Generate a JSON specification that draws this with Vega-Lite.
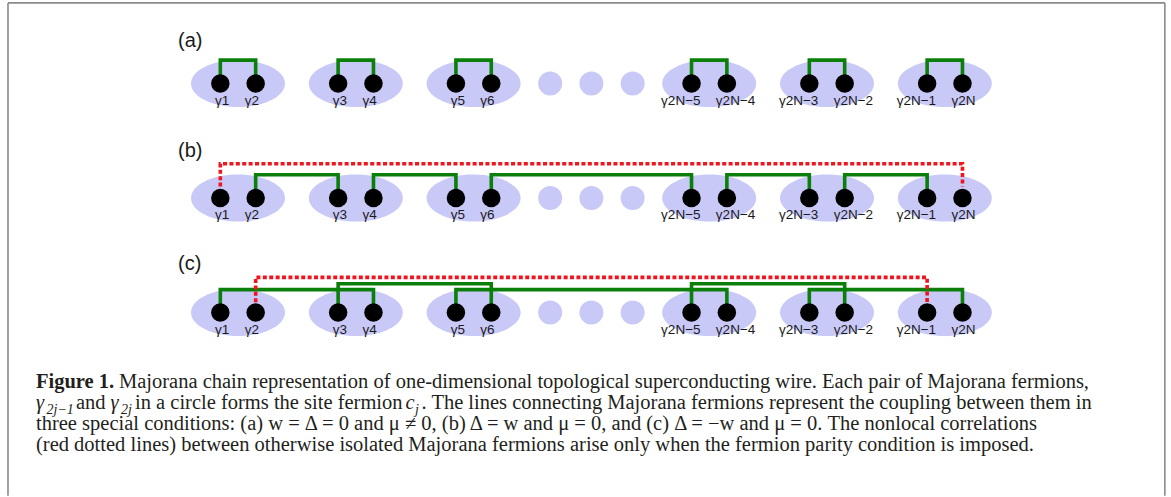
{
  "$schema": "https://vega.github.io/schema/vega-lite/v6.json",
  "width": 1171,
  "height": 497,
  "autosize": {"type": "fit", "contains": "padding"},
  "padding": 0,
  "background": "white",
  "config": {"view": {"stroke": null}},
  "datasets": {
    "frame": [
      {"x": -1.9525, "y": -0.7046, "x2": -1.9525, "y2": 3.6},
      {"x": -1.9525, "y": -0.7046, "x2": 7.868, "y2": -0.7046},
      {"x": 7.868, "y": -0.7046, "x2": 7.868, "y2": 3.6}
    ],
    "sites": [
      {"x": 0, "y": 0}, {"x": 1, "y": 0}, {"x": 2, "y": 0}, {"x": 4, "y": 0}, {"x": 5, "y": 0}, {"x": 6, "y": 0},
      {"x": 0, "y": 1}, {"x": 1, "y": 1}, {"x": 2, "y": 1}, {"x": 4, "y": 1}, {"x": 5, "y": 1}, {"x": 6, "y": 1},
      {"x": 0, "y": 2}, {"x": 1, "y": 2}, {"x": 2, "y": 2}, {"x": 4, "y": 2}, {"x": 5, "y": 2}, {"x": 6, "y": 2}
    ],
    "gap": [
      {"x": 2.65, "y": 0}, {"x": 3, "y": 0}, {"x": 3.35, "y": 0},
      {"x": 2.65, "y": 1}, {"x": 3, "y": 1}, {"x": 3.35, "y": 1},
      {"x": 2.65, "y": 2}, {"x": 3, "y": 2}, {"x": 3.35, "y": 2}
    ],
    "majorana": [
      {"x": -0.15, "y": 0, "label": "γ1", "side": "left"}, {"x": 0.15, "y": 0, "label": "γ2", "side": "right"},
      {"x": 0.85, "y": 0, "label": "γ3", "side": "left"}, {"x": 1.15, "y": 0, "label": "γ4", "side": "right"},
      {"x": 1.85, "y": 0, "label": "γ5", "side": "left"}, {"x": 2.15, "y": 0, "label": "γ6", "side": "right"},
      {"x": 3.85, "y": 0, "label": "γ2N−5", "side": "left"}, {"x": 4.15, "y": 0, "label": "γ2N−4", "side": "right"},
      {"x": 4.85, "y": 0, "label": "γ2N−3", "side": "left"}, {"x": 5.15, "y": 0, "label": "γ2N−2", "side": "right"},
      {"x": 5.85, "y": 0, "label": "γ2N−1", "side": "left"}, {"x": 6.15, "y": 0, "label": "γ2N", "side": "right"},
      {"x": -0.15, "y": 1, "label": "γ1", "side": "left"}, {"x": 0.15, "y": 1, "label": "γ2", "side": "right"},
      {"x": 0.85, "y": 1, "label": "γ3", "side": "left"}, {"x": 1.15, "y": 1, "label": "γ4", "side": "right"},
      {"x": 1.85, "y": 1, "label": "γ5", "side": "left"}, {"x": 2.15, "y": 1, "label": "γ6", "side": "right"},
      {"x": 3.85, "y": 1, "label": "γ2N−5", "side": "left"}, {"x": 4.15, "y": 1, "label": "γ2N−4", "side": "right"},
      {"x": 4.85, "y": 1, "label": "γ2N−3", "side": "left"}, {"x": 5.15, "y": 1, "label": "γ2N−2", "side": "right"},
      {"x": 5.85, "y": 1, "label": "γ2N−1", "side": "left"}, {"x": 6.15, "y": 1, "label": "γ2N", "side": "right"},
      {"x": -0.15, "y": 2, "label": "γ1", "side": "left"}, {"x": 0.15, "y": 2, "label": "γ2", "side": "right"},
      {"x": 0.85, "y": 2, "label": "γ3", "side": "left"}, {"x": 1.15, "y": 2, "label": "γ4", "side": "right"},
      {"x": 1.85, "y": 2, "label": "γ5", "side": "left"}, {"x": 2.15, "y": 2, "label": "γ6", "side": "right"},
      {"x": 3.85, "y": 2, "label": "γ2N−5", "side": "left"}, {"x": 4.15, "y": 2, "label": "γ2N−4", "side": "right"},
      {"x": 4.85, "y": 2, "label": "γ2N−3", "side": "left"}, {"x": 5.15, "y": 2, "label": "γ2N−2", "side": "right"},
      {"x": 5.85, "y": 2, "label": "γ2N−1", "side": "left"}, {"x": 6.15, "y": 2, "label": "γ2N", "side": "right"}
    ],
    "links": [
      {"id": "a1", "kind": "coupling", "k": 1, "x": -0.15, "y": 0}, {"id": "a1", "kind": "coupling", "k": 2, "x": -0.15, "y": -0.205}, {"id": "a1", "kind": "coupling", "k": 3, "x": 0.15, "y": -0.205}, {"id": "a1", "kind": "coupling", "k": 4, "x": 0.15, "y": 0},
      {"id": "a2", "kind": "coupling", "k": 1, "x": 0.85, "y": 0}, {"id": "a2", "kind": "coupling", "k": 2, "x": 0.85, "y": -0.205}, {"id": "a2", "kind": "coupling", "k": 3, "x": 1.15, "y": -0.205}, {"id": "a2", "kind": "coupling", "k": 4, "x": 1.15, "y": 0},
      {"id": "a3", "kind": "coupling", "k": 1, "x": 1.85, "y": 0}, {"id": "a3", "kind": "coupling", "k": 2, "x": 1.85, "y": -0.205}, {"id": "a3", "kind": "coupling", "k": 3, "x": 2.15, "y": -0.205}, {"id": "a3", "kind": "coupling", "k": 4, "x": 2.15, "y": 0},
      {"id": "a4", "kind": "coupling", "k": 1, "x": 3.85, "y": 0}, {"id": "a4", "kind": "coupling", "k": 2, "x": 3.85, "y": -0.205}, {"id": "a4", "kind": "coupling", "k": 3, "x": 4.15, "y": -0.205}, {"id": "a4", "kind": "coupling", "k": 4, "x": 4.15, "y": 0},
      {"id": "a5", "kind": "coupling", "k": 1, "x": 4.85, "y": 0}, {"id": "a5", "kind": "coupling", "k": 2, "x": 4.85, "y": -0.205}, {"id": "a5", "kind": "coupling", "k": 3, "x": 5.15, "y": -0.205}, {"id": "a5", "kind": "coupling", "k": 4, "x": 5.15, "y": 0},
      {"id": "a6", "kind": "coupling", "k": 1, "x": 5.85, "y": 0}, {"id": "a6", "kind": "coupling", "k": 2, "x": 5.85, "y": -0.205}, {"id": "a6", "kind": "coupling", "k": 3, "x": 6.15, "y": -0.205}, {"id": "a6", "kind": "coupling", "k": 4, "x": 6.15, "y": 0},
      {"id": "b1", "kind": "coupling", "k": 1, "x": 0.15, "y": 1}, {"id": "b1", "kind": "coupling", "k": 2, "x": 0.15, "y": 0.797}, {"id": "b1", "kind": "coupling", "k": 3, "x": 0.85, "y": 0.797}, {"id": "b1", "kind": "coupling", "k": 4, "x": 0.85, "y": 1},
      {"id": "b2", "kind": "coupling", "k": 1, "x": 1.15, "y": 1}, {"id": "b2", "kind": "coupling", "k": 2, "x": 1.15, "y": 0.797}, {"id": "b2", "kind": "coupling", "k": 3, "x": 1.85, "y": 0.797}, {"id": "b2", "kind": "coupling", "k": 4, "x": 1.85, "y": 1},
      {"id": "b3", "kind": "coupling", "k": 1, "x": 2.15, "y": 1}, {"id": "b3", "kind": "coupling", "k": 2, "x": 2.15, "y": 0.797}, {"id": "b3", "kind": "coupling", "k": 3, "x": 3.85, "y": 0.797}, {"id": "b3", "kind": "coupling", "k": 4, "x": 3.85, "y": 1},
      {"id": "b4", "kind": "coupling", "k": 1, "x": 4.15, "y": 1}, {"id": "b4", "kind": "coupling", "k": 2, "x": 4.15, "y": 0.797}, {"id": "b4", "kind": "coupling", "k": 3, "x": 4.85, "y": 0.797}, {"id": "b4", "kind": "coupling", "k": 4, "x": 4.85, "y": 1},
      {"id": "b5", "kind": "coupling", "k": 1, "x": 5.15, "y": 1}, {"id": "b5", "kind": "coupling", "k": 2, "x": 5.15, "y": 0.797}, {"id": "b5", "kind": "coupling", "k": 3, "x": 5.85, "y": 0.797}, {"id": "b5", "kind": "coupling", "k": 4, "x": 5.85, "y": 1},
      {"id": "b0", "kind": "nonlocal", "k": 1, "x": -0.15, "y": 0.9}, {"id": "b0", "kind": "nonlocal", "k": 2, "x": -0.15, "y": 0.7}, {"id": "b0", "kind": "nonlocal", "k": 3, "x": 6.15, "y": 0.7}, {"id": "b0", "kind": "nonlocal", "k": 4, "x": 6.15, "y": 0.9},
      {"id": "c1", "kind": "coupling", "k": 1, "x": -0.15, "y": 2}, {"id": "c1", "kind": "coupling", "k": 2, "x": -0.15, "y": 1.8}, {"id": "c1", "kind": "coupling", "k": 3, "x": 1.15, "y": 1.8}, {"id": "c1", "kind": "coupling", "k": 4, "x": 1.15, "y": 2},
      {"id": "c2", "kind": "coupling", "k": 1, "x": 0.85, "y": 2}, {"id": "c2", "kind": "coupling", "k": 2, "x": 0.85, "y": 1.748}, {"id": "c2", "kind": "coupling", "k": 3, "x": 2.15, "y": 1.748}, {"id": "c2", "kind": "coupling", "k": 4, "x": 2.15, "y": 2},
      {"id": "c3", "kind": "coupling", "k": 1, "x": 1.85, "y": 2}, {"id": "c3", "kind": "coupling", "k": 2, "x": 1.85, "y": 1.8}, {"id": "c3", "kind": "coupling", "k": 3, "x": 4.15, "y": 1.8}, {"id": "c3", "kind": "coupling", "k": 4, "x": 4.15, "y": 2},
      {"id": "c4", "kind": "coupling", "k": 1, "x": 3.85, "y": 2}, {"id": "c4", "kind": "coupling", "k": 2, "x": 3.85, "y": 1.748}, {"id": "c4", "kind": "coupling", "k": 3, "x": 5.15, "y": 1.748}, {"id": "c4", "kind": "coupling", "k": 4, "x": 5.15, "y": 2},
      {"id": "c5", "kind": "coupling", "k": 1, "x": 4.85, "y": 2}, {"id": "c5", "kind": "coupling", "k": 2, "x": 4.85, "y": 1.8}, {"id": "c5", "kind": "coupling", "k": 3, "x": 6.15, "y": 1.8}, {"id": "c5", "kind": "coupling", "k": 4, "x": 6.15, "y": 2},
      {"id": "c0", "kind": "nonlocal", "k": 1, "x": 0.15, "y": 1.91}, {"id": "c0", "kind": "nonlocal", "k": 2, "x": 0.15, "y": 1.693}, {"id": "c0", "kind": "nonlocal", "k": 3, "x": 5.85, "y": 1.693}, {"id": "c0", "kind": "nonlocal", "k": 4, "x": 5.85, "y": 1.91}
    ],
    "panels": [
      {"x": -0.509, "y": -0.3735, "text": "(a)"},
      {"x": -0.509, "y": 0.586, "text": "(b)"},
      {"x": -0.509, "y": 1.579, "text": "(c)"}
    ],
    "caption": [
      {"x": -1.7148, "y": 2.6613, "style": "bold", "text": "Figure 1."},
      {"x": -1.0102, "y": 2.6613, "style": "normal", "text": "Majorana chain representation of one-dimensional topological superconducting wire. Each pair of Majorana fermions,"},
      {"x": -1.7148, "y": 2.8438, "style": "italic", "text": "γ"},
      {"x": -1.6257, "y": 2.8438, "style": "sub", "text": "2j−1"},
      {"x": -1.3752, "y": 2.8438, "style": "normal", "text": "and"},
      {"x": -1.0823, "y": 2.8438, "style": "italic", "text": "γ"},
      {"x": -0.9932, "y": 2.8438, "style": "sub", "text": "2j"},
      {"x": -0.8744, "y": 2.8438, "style": "normal", "text": "in a circle forms the site fermion"},
      {"x": 1.4219, "y": 2.8438, "style": "italic", "text": "c"},
      {"x": 1.5025, "y": 2.8438, "style": "sub", "text": "j"},
      {"x": 1.5577, "y": 2.8438, "style": "normal", "text": ". The lines connecting Majorana fermions represent the coupling between them in"},
      {"x": -1.7148, "y": 3.0263, "style": "normal", "text": "three special conditions: (a) w = Δ = 0 and μ ≠ 0, (b) Δ = w and μ = 0, and (c) Δ = −w and μ = 0. The nonlocal correlations"},
      {"x": -1.7148, "y": 3.2088, "style": "normal", "text": "(red dotted lines) between otherwise isolated Majorana fermions arise only when the fermion parity condition is imposed."}
    ]
  },
  "layer": [
    {
      "data": {"name": "frame"},
      "mark": {"type": "rule", "color": "#8a8a8a", "strokeWidth": 1.6},
      "encoding": {
        "x": {"field": "x", "type": "quantitative", "scale": {"domain": [-2.02037, 7.9202], "nice": false, "zero": false}, "axis": null},
        "y": {"field": "y", "type": "quantitative", "scale": {"domain": [-0.73005, 3.48896], "nice": false, "zero": false, "reverse": true}, "axis": null},
        "x2": {"field": "x2"},
        "y2": {"field": "y2"}
      }
    },
    {
      "data": {"name": "sites"},
      "mark": {"type": "point", "shape": "M-1,0A1,0.5,0,1,1,1,0A1,0.5,0,1,1,-1,0Z", "size": 8836, "filled": true, "color": "#c9c9f8", "opacity": 1, "strokeWidth": 0},
      "encoding": {
        "x": {"field": "x", "type": "quantitative", "scale": {"domain": [-2.02037, 7.9202], "nice": false, "zero": false}, "axis": null},
        "y": {"field": "y", "type": "quantitative", "scale": {"domain": [-0.73005, 3.48896], "nice": false, "zero": false, "reverse": true}, "axis": null}
      }
    },
    {
      "data": {"name": "gap"},
      "mark": {"type": "point", "shape": "circle", "size": 576, "filled": true, "color": "#c9c9f8", "opacity": 1, "strokeWidth": 0},
      "encoding": {
        "x": {"field": "x", "type": "quantitative", "scale": {"domain": [-2.02037, 7.9202], "nice": false, "zero": false}, "axis": null},
        "y": {"field": "y", "type": "quantitative", "scale": {"domain": [-0.73005, 3.48896], "nice": false, "zero": false, "reverse": true}, "axis": null}
      }
    },
    {
      "data": {"name": "links"},
      "transform": [{"filter": "datum.kind === 'coupling'"}],
      "mark": {"type": "line", "color": "#0a7f0a", "strokeWidth": 3.6, "strokeCap": "butt", "strokeJoin": "miter"},
      "encoding": {
        "x": {"field": "x", "type": "quantitative", "scale": {"domain": [-2.02037, 7.9202], "nice": false, "zero": false}, "axis": null},
        "y": {"field": "y", "type": "quantitative", "scale": {"domain": [-0.73005, 3.48896], "nice": false, "zero": false, "reverse": true}, "axis": null},
        "detail": {"field": "id", "type": "nominal"},
        "order": {"field": "k", "type": "quantitative"}
      }
    },
    {
      "data": {"name": "links"},
      "transform": [{"filter": "datum.kind === 'nonlocal'"}],
      "mark": {"type": "line", "color": "#f0141c", "strokeWidth": 3.6, "strokeDash": [4, 2.4], "strokeCap": "butt", "strokeJoin": "miter"},
      "encoding": {
        "x": {"field": "x", "type": "quantitative", "scale": {"domain": [-2.02037, 7.9202], "nice": false, "zero": false}, "axis": null},
        "y": {"field": "y", "type": "quantitative", "scale": {"domain": [-0.73005, 3.48896], "nice": false, "zero": false, "reverse": true}, "axis": null},
        "detail": {"field": "id", "type": "nominal"},
        "order": {"field": "k", "type": "quantitative"}
      }
    },
    {
      "data": {"name": "majorana"},
      "mark": {"type": "point", "shape": "circle", "size": 342, "filled": true, "color": "#000000", "opacity": 1, "strokeWidth": 0},
      "encoding": {
        "x": {"field": "x", "type": "quantitative", "scale": {"domain": [-2.02037, 7.9202], "nice": false, "zero": false}, "axis": null},
        "y": {"field": "y", "type": "quantitative", "scale": {"domain": [-0.73005, 3.48896], "nice": false, "zero": false, "reverse": true}, "axis": null}
      }
    },
    {
      "data": {"name": "majorana"},
      "transform": [{"filter": "datum.side === 'left'"}],
      "mark": {"type": "text", "align": "right", "baseline": "alphabetic", "dx": 9, "dy": 21, "font": "Liberation Sans", "fontSize": 13.5, "color": "#1a1a1a"},
      "encoding": {
        "x": {"field": "x", "type": "quantitative", "scale": {"domain": [-2.02037, 7.9202], "nice": false, "zero": false}, "axis": null},
        "y": {"field": "y", "type": "quantitative", "scale": {"domain": [-0.73005, 3.48896], "nice": false, "zero": false, "reverse": true}, "axis": null},
        "text": {"field": "label"}
      }
    },
    {
      "data": {"name": "majorana"},
      "transform": [{"filter": "datum.side === 'right'"}],
      "mark": {"type": "text", "align": "left", "baseline": "alphabetic", "dx": -11, "dy": 21, "font": "Liberation Sans", "fontSize": 13.5, "color": "#1a1a1a"},
      "encoding": {
        "x": {"field": "x", "type": "quantitative", "scale": {"domain": [-2.02037, 7.9202], "nice": false, "zero": false}, "axis": null},
        "y": {"field": "y", "type": "quantitative", "scale": {"domain": [-0.73005, 3.48896], "nice": false, "zero": false, "reverse": true}, "axis": null},
        "text": {"field": "label"}
      }
    },
    {
      "data": {"name": "panels"},
      "mark": {"type": "text", "align": "left", "baseline": "middle", "font": "Liberation Sans", "fontSize": 20, "color": "#1a1a1a"},
      "encoding": {
        "x": {"field": "x", "type": "quantitative", "scale": {"domain": [-2.02037, 7.9202], "nice": false, "zero": false}, "axis": null},
        "y": {"field": "y", "type": "quantitative", "scale": {"domain": [-0.73005, 3.48896], "nice": false, "zero": false, "reverse": true}, "axis": null},
        "text": {"field": "text"}
      }
    },
    {
      "data": {"name": "caption"},
      "transform": [{"filter": "datum.style === 'bold'"}],
      "mark": {"type": "text", "align": "left", "baseline": "alphabetic", "font": "Liberation Serif", "fontSize": 20.5, "fontWeight": "bold", "color": "#231f20"},
      "encoding": {
        "x": {"field": "x", "type": "quantitative", "scale": {"domain": [-2.02037, 7.9202], "nice": false, "zero": false}, "axis": null},
        "y": {"field": "y", "type": "quantitative", "scale": {"domain": [-0.73005, 3.48896], "nice": false, "zero": false, "reverse": true}, "axis": null},
        "text": {"field": "text"}
      }
    },
    {
      "data": {"name": "caption"},
      "transform": [{"filter": "datum.style === 'normal'"}],
      "mark": {"type": "text", "align": "left", "baseline": "alphabetic", "font": "Liberation Serif", "fontSize": 20.5, "color": "#231f20"},
      "encoding": {
        "x": {"field": "x", "type": "quantitative", "scale": {"domain": [-2.02037, 7.9202], "nice": false, "zero": false}, "axis": null},
        "y": {"field": "y", "type": "quantitative", "scale": {"domain": [-0.73005, 3.48896], "nice": false, "zero": false, "reverse": true}, "axis": null},
        "text": {"field": "text"}
      }
    },
    {
      "data": {"name": "caption"},
      "transform": [{"filter": "datum.style === 'italic'"}],
      "mark": {"type": "text", "align": "left", "baseline": "alphabetic", "font": "Liberation Serif", "fontSize": 20.5, "fontStyle": "italic", "color": "#231f20"},
      "encoding": {
        "x": {"field": "x", "type": "quantitative", "scale": {"domain": [-2.02037, 7.9202], "nice": false, "zero": false}, "axis": null},
        "y": {"field": "y", "type": "quantitative", "scale": {"domain": [-0.73005, 3.48896], "nice": false, "zero": false, "reverse": true}, "axis": null},
        "text": {"field": "text"}
      }
    },
    {
      "data": {"name": "caption"},
      "transform": [{"filter": "datum.style === 'sub'"}],
      "mark": {"type": "text", "align": "left", "baseline": "alphabetic", "dy": 5, "font": "Liberation Serif", "fontSize": 14, "fontStyle": "italic", "color": "#231f20"},
      "encoding": {
        "x": {"field": "x", "type": "quantitative", "scale": {"domain": [-2.02037, 7.9202], "nice": false, "zero": false}, "axis": null},
        "y": {"field": "y", "type": "quantitative", "scale": {"domain": [-0.73005, 3.48896], "nice": false, "zero": false, "reverse": true}, "axis": null},
        "text": {"field": "text"}
      }
    }
  ]
}
